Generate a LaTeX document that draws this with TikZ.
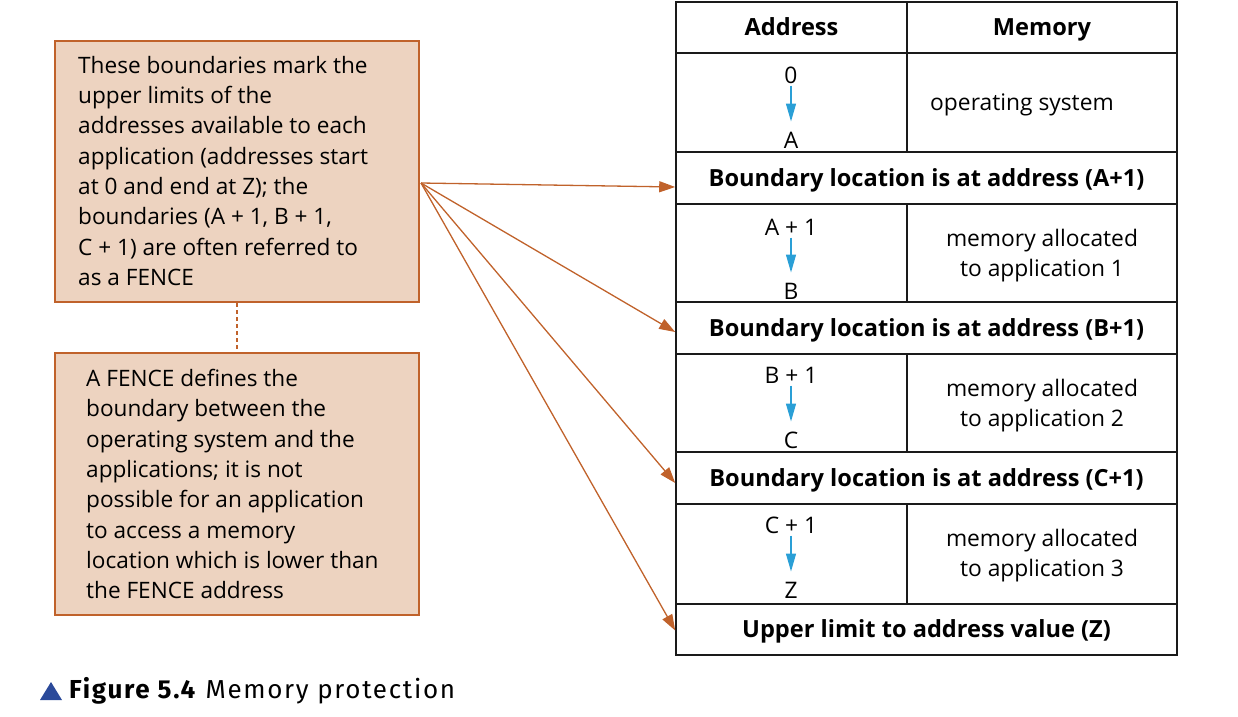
\documentclass[tikz,border=0pt]{standalone}
\usepackage{fontspec}
\setmainfont{Open Sans}
\newfontfamily\capfont[LetterSpace=6.5]{Fira Sans}
\usetikzlibrary{arrows.meta}
\definecolor{boxfill}{HTML}{EDD3C0}
\definecolor{boxline}{HTML}{C0622B}
\definecolor{arrblue}{HTML}{2A9FD6}
\definecolor{capblue}{HTML}{2B4A9A}
\definecolor{tline}{HTML}{1A1A1A}
\begin{document}
\begin{tikzpicture}[x=1pt,y=-1pt,
  note/.style={draw=boxline,line width=2.5pt,fill=boxfill,minimum width=364pt,inner sep=0pt},
  notetext/.style={anchor=north west,align=left,inner sep=0pt,font=\fontsize{22.6}{30.3}\selectfont},
  cell/.style={draw=tline,line width=1.6pt,inner sep=0pt},
  acell/.style={cell,minimum width=231pt},
  mcell/.style={cell,minimum width=270pt},
  brow/.style={cell,minimum width=501pt,font=\fontsize{23.6}{26}\selectfont\bfseries,text height=19pt,text depth=3pt},
  txt/.style={inner sep=0pt,font=\fontsize{22.8}{30}\selectfont,align=center},
  htxt/.style={inner sep=0pt,font=\fontsize{23.6}{26}\selectfont\bfseries,text height=19pt,text depth=3pt},
  bluearr/.style={draw=arrblue,line width=1.4pt,-{Triangle[length=18pt,width=10pt]}},
  orarr/.style={draw=boxline,line width=1.3pt,-{Triangle[length=16pt,width=11pt]}},
]
\useasboundingbox (0,0) rectangle (1238,716);

% left notes
\node[note,minimum height=261pt] (n1) at (237,171.5) {};
\node[note,minimum height=262pt] (n2) at (237,484) {};
\node[notetext] (t1) at (78,56) {These boundaries mark the\\upper limits of the\\addresses available to each\\application (addresses start\\at 0 and end at Z); the\\boundaries (A + 1, B + 1,\\C + 1) are often referred to\\as a FENCE};
\node[notetext] (t2) at (86,369) {A FENCE defines the\\boundary between the\\operating system and the\\applications; it is not\\possible for an application\\to access a memory\\location which is lower than\\the FENCE address};
\draw[boxline,line width=2.8pt,dash pattern=on 3.5pt off 3.5pt] (n1.south) -- (n2.north);

% table
\node[acell,minimum height=51pt] (hA) at (791.5,27.5) {};
\node[mcell,minimum height=51pt] (hM) at (1042,27.5) {};
\node[htxt] at (hA) {Address};
\node[htxt] at (hM) {Memory};

\node[acell,minimum height=99pt] (a0) at (791.5,102.5) {};
\node[mcell,minimum height=99pt] (m0) at (1042,102.5) {};
\node[brow,minimum height=52pt] (b1) at (926.5,178) {Boundary location is at address (A+1)};
\node[acell,minimum height=98pt] (a1) at (791.5,253) {};
\node[mcell,minimum height=98pt] (m1) at (1042,253) {};
\node[brow,minimum height=52pt] (b2) at (926.5,328) {Boundary location is at address (B+1)};
\node[acell,minimum height=98pt] (a2) at (791.5,403) {};
\node[mcell,minimum height=98pt] (m2) at (1042,403) {};
\node[brow,minimum height=52pt] (b3) at (926.5,478) {Boundary location is at address (C+1)};
\node[acell,minimum height=100pt] (a3) at (791.5,554) {};
\node[mcell,minimum height=100pt] (m3) at (1042,554) {};
\node[brow,minimum height=51pt] (b4) at (926.5,629.5) {Upper limit to address value (Z)};

% address ranges
\node[txt] (s0) at (791,75.5) {0};
\node[txt] (e0) at (791,140.5) {A};
\node[txt] (s1) at (791,227.5) {A + 1};
\node[txt] (e1) at (791,291.5) {B};
\node[txt] (s2) at (791,375.5) {B + 1};
\node[txt] (e2) at (791,440.5) {C};
\node[txt] (s3) at (791,525.5) {C + 1};
\node[txt] (e3) at (791,590.5) {Z};
\foreach \i in {0,...,3}{\draw[bluearr] ([yshift=-10pt]s\i.center) -- ([yshift=19pt]e\i.center);}

% memory texts
\node[txt] at (1022,104.5) {operating system};
\node[txt] at (1042,255.5) {memory allocated\\to application 1};
\node[txt] at (1042,405.5) {memory allocated\\to application 2};
\node[txt] at (1042,555.5) {memory allocated\\to application 3};

% pointer arrows
\coordinate (src) at (421,183);
\draw[orarr] (src) -- ([yshift=-9pt]b1.west);
\draw[orarr] (src) -- ([yshift=-4pt]b2.west);
\draw[orarr] (src) -- ([yshift=-5pt]b3.west);
\draw[orarr] (src) -- ([yshift=-1pt]b4.west);

% caption
\fill[capblue] (40,700) -- (62,700) -- (51,682) -- cycle;
\node[anchor=west,inner sep=0pt,font=\capfont\fontsize{26}{30}\selectfont] (cap) at (69,691) {\textbf{Figure 5.4} Memory protection};
\end{tikzpicture}
\end{document}
